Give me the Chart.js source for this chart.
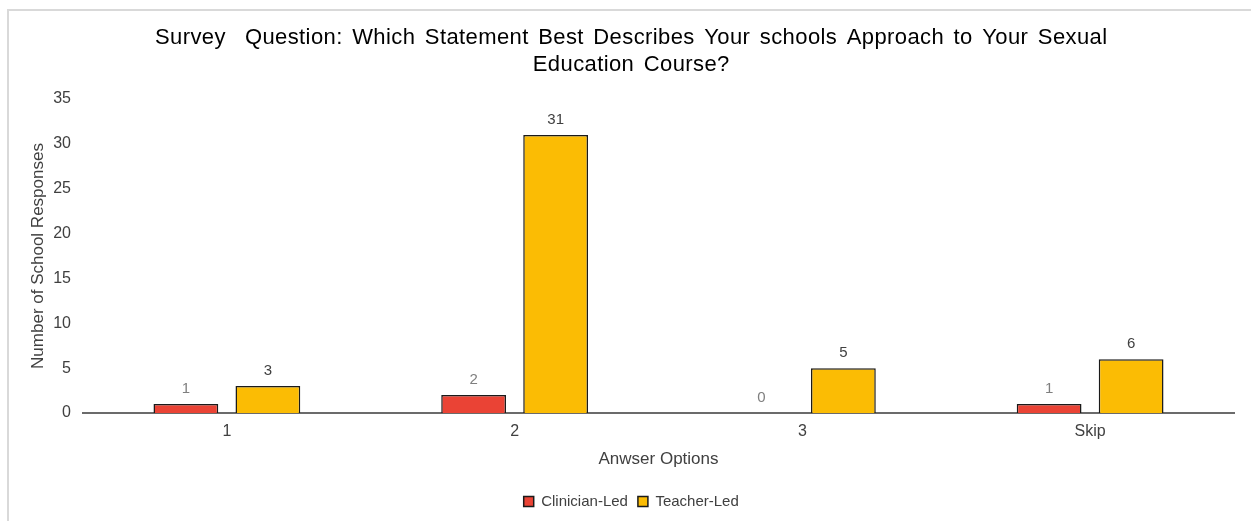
<!DOCTYPE html>
<html>
<head>
<meta charset="utf-8">
<script src="https://cdn.jsdelivr.net/npm/chart.js@4/dist/chart.umd.min.js"></script>
<style>
  html, body { margin: 0; padding: 0; background: #fff; }
  #wrap { position: relative; width: 1251px; height: 521px; overflow: hidden; }
  #frame { position: absolute; left: 7px; top: 9px; width: 1300px; height: 600px;
           border-left: 2px solid #d9d9d9; border-top: 2px solid #d9d9d9; }
  canvas { position: absolute; left: 0; top: 0; }
</style>
</head>
<body>
<div id="wrap">
  <div id="frame"></div>
  <canvas id="surveyChart" width="1251" height="521"></canvas>
</div>
<script>
// ── Data ────────────────────────────────────────────────────────────────────

const answerOptions = ['1', '2', '3', 'Skip'];
const clinicianLed = [1, 2, 0, 1];
const teacherLed = [3, 31, 5, 6];

const titleLines = [
  'Survey  Question: Which Statement Best Describes Your schools Approach to Your Sexual',
  'Education Course?'
];

const FONT = 'Arial, "Liberation Sans", sans-serif';

// ── Title text is set a little looser in the original ───────────────────────

const titleSpacing = {
  id: 'titleSpacing',
  beforeDraw(chart) {
    const tb = chart.titleBlock;
    if (!tb || tb._spaced) return;
    const draw = tb.draw.bind(tb);
    tb.draw = function () {
      const ctx = chart.ctx;
      ctx.save();
      ctx.wordSpacing = '3px';
      ctx.letterSpacing = '0.4px';
      draw();
      ctx.restore();
    };
    tb._spaced = true;
  }
};

// ── Value labels above bars ─────────────────────────────────────────────────

const barLabels = {
  id: 'barLabels',
  afterDatasetsDraw(chart) {
    const ctx = chart.ctx;
    ctx.save();
    ctx.font = '15px ' + FONT;
    ctx.textAlign = 'center';
    ctx.textBaseline = 'middle';
    chart.data.datasets.forEach((ds, i) => {
      ctx.fillStyle = ds.labelColor;
      chart.getDatasetMeta(i).data.forEach((bar, j) => {
        ctx.fillText(String(ds.data[j]), bar.x, bar.y - 15);
      });
    });
    ctx.restore();
  }
};

// ── Chart ───────────────────────────────────────────────────────────────────

new Chart(document.getElementById('surveyChart'), {
  type: 'bar',
  data: {
    labels: answerOptions,
    datasets: [
      {
        label: 'Clinician-Led',
        data: clinicianLed,
        backgroundColor: '#EA4335',
        borderColor: '#1a1a1a',
        borderWidth: 1.5,
        labelColor: '#7f7f7f',
        categoryPercentage: 0.57,
        barPercentage: 0.79
      },
      {
        label: 'Teacher-Led',
        data: teacherLed,
        backgroundColor: '#FBBC04',
        borderColor: '#1a1a1a',
        borderWidth: 1.5,
        labelColor: '#404040',
        categoryPercentage: 0.57,
        barPercentage: 0.79
      }
    ]
  },
  options: {
    responsive: false,
    animation: false,
    layout: { padding: { left: 28.5, right: 17, top: 0, bottom: 2 } },
    plugins: {
      title: {
        display: true,
        text: titleLines,
        color: '#000',
        font: { family: FONT, size: 22, weight: 'normal', lineHeight: 27 / 22 },
        padding: { top: 24.5, bottom: 20.5 }
      },
      legend: {
        position: 'bottom',
        labels: {
          color: '#404040',
          font: { family: FONT, size: 15 },
          boxWidth: 10,
          boxHeight: 10,
          padding: 10,
          generateLabels(chart) {
            return chart.data.datasets.map((ds, i) => ({
              text: ds.label,
              fillStyle: ds.backgroundColor,
              strokeStyle: '#1a1a1a',
              lineWidth: 1.5,
              fontColor: '#404040',
              datasetIndex: i
            }));
          }
        }
      },
      tooltip: { enabled: false }
    },
    scales: {
      x: {
        grid: { display: false },
        border: { display: true, color: '#6b6b6b', width: 2 },
        ticks: { color: '#404040', font: { family: FONT, size: 16 }, padding: 1 },
        title: {
          display: true,
          text: 'Anwser Options',
          color: '#404040',
          font: { family: FONT, size: 17 },
          padding: { top: 0, bottom: 14 }
        },
        afterFit(scale) {
          const c = scale.chart;
          scale.height = c.height - 2 - c.legend.height - 413;
        }
      },
      y: {
        min: 0,
        max: 35,
        grid: { display: false },
        border: { display: false },
        ticks: { stepSize: 5, color: '#404040', font: { family: FONT, size: 16 }, padding: 4 },
        title: {
          display: true,
          text: 'Number of School Responses',
          color: '#404040',
          font: { family: FONT, size: 17 },
          padding: { top: 0, bottom: 0 }
        },
        afterFit(scale) { scale.width = 54.5; }
      }
    }
  },
  plugins: [titleSpacing, barLabels]
});
</script>
</body>
</html>
